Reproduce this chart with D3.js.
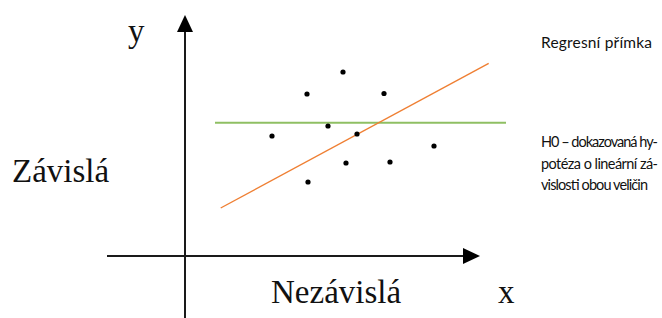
<!DOCTYPE html>
<html>
<head>
<meta charset="utf-8">
<script src="https://cdn.jsdelivr.net/npm/d3@7"></script>
<style>
  html, body { margin: 0; padding: 0; background: #fff; overflow: hidden; }
  svg { display: block; }
  .serif { font-family: "Liberation Serif", "DejaVu Serif", serif; fill: #111; }
  .note { font-family: Lato, "Open Sans", sans-serif; fill: #111; }
</style>
</head>
<body>
<svg id="chart"></svg>
<script>
// scatter points, in plot units (x right, y up)
const pointX = [158, 122, 199, 143, 87, 172, 249, 161, 205, 123];
const pointY = [184, 162, 162.5, 130, 120, 122, 110, 93, 94, 74];

// H0 line (horizontal) and regression line endpoints
const h0X = [30, 321];
const h0Y = [133.3, 133.3];
const regX = [35.7, 303.7];
const regY = [48, 192.7];

// axis extents
const axisXRange = [-78, 295];
const axisYRange = [-62, 241];

const labels = {
  y: 'y',
  x: 'x',
  dependent: 'Závislá',
  independent: 'Nezávislá',
  regression: 'Regresní přímka',
};
const h0Lines = ['H0 – dokazovaná hy-', 'potéza o lineární zá-', 'vislosti obou veličin'];
// line widths of the justified note (last line is not stretched)
const h0Widths = [117, 117, 107];

const width = 662;
const height = 318;

const svg = d3.select('#chart')
  .attr('width', width)
  .attr('height', height);

// 1 unit = 1 px, origin at the axes crossing
const x = d3.scaleLinear().domain([0, 300]).range([185, 485]);
const y = d3.scaleLinear().domain([0, 240]).range([256, 16]);

const line = d3.line()
  .x((d) => x(d[0]))
  .y((d) => y(d[1]));

// axes
const ah = 17; // arrow length
const aw = 8;  // arrow half width
svg.append('path')
  .attr('d', `M${x(axisXRange[0])},${y(0)}L${x(axisXRange[1]) - ah},${y(0)}`)
  .attr('stroke', '#1a1a1a')
  .attr('stroke-width', 2)
  .attr('fill', 'none');
svg.append('path')
  .attr('d', `M${x(0)},${y(axisYRange[0])}L${x(0)},${y(axisYRange[1]) + ah}`)
  .attr('stroke', '#1a1a1a')
  .attr('stroke-width', 2)
  .attr('fill', 'none');

// arrowheads
const tipX = [x(axisXRange[1]), y(0)];
const tipY = [x(0), y(axisYRange[1])];
svg.append('path')
  .attr('d', `M${tipX[0]},${tipX[1]}L${tipX[0] - ah},${tipX[1] - aw}L${tipX[0] - ah},${tipX[1] + aw}Z`)
  .attr('fill', '#000');
svg.append('path')
  .attr('d', `M${tipY[0]},${tipY[1]}L${tipY[0] - aw},${tipY[1] + ah}L${tipY[0] + aw},${tipY[1] + ah}Z`)
  .attr('fill', '#000');

// H0 line
svg.append('path')
  .attr('d', line(d3.zip(h0X, h0Y)))
  .attr('stroke', '#8fbf63')
  .attr('stroke-width', 2)
  .attr('fill', 'none');

// regression line
svg.append('path')
  .attr('d', line(d3.zip(regX, regY)))
  .attr('stroke', '#ef7f33')
  .attr('stroke-width', 1.4)
  .attr('fill', 'none');

// points
svg.append('g')
  .selectAll('circle')
  .data(d3.zip(pointX, pointY))
  .join('circle')
  .attr('cx', (d) => x(d[0]))
  .attr('cy', (d) => y(d[1]))
  .attr('r', 2.6)
  .attr('fill', '#000');

// serif labels
svg.append('text').attr('class', 'serif').attr('x', 128).attr('y', 42)
  .attr('font-size', 33).text(labels.y);
svg.append('text').attr('class', 'serif').attr('x', 12).attr('y', 182)
  .attr('font-size', 33).text(labels.dependent);
svg.append('text').attr('class', 'serif').attr('x', 271).attr('y', 303)
  .attr('font-size', 33).text(labels.independent);
svg.append('text').attr('class', 'serif').attr('x', 498).attr('y', 303)
  .attr('font-size', 33).text(labels.x);

// side notes
svg.append('text').attr('class', 'note').attr('x', 541).attr('y', 48)
  .attr('font-size', 15.5)
  .attr('textLength', 111)
  .attr('lengthAdjust', 'spacing')
  .text(labels.regression);

svg.append('g')
  .selectAll('text')
  .data(d3.zip(h0Lines, h0Widths))
  .join('text')
  .attr('class', 'note')
  .attr('x', 541)
  .attr('y', (d, i) => 147 + i * 21.5)
  .attr('font-size', 14.5)
  .attr('textLength', (d) => d[1])
  .attr('lengthAdjust', 'spacing')
  .text((d) => d[0]);
</script>
</body>
</html>
